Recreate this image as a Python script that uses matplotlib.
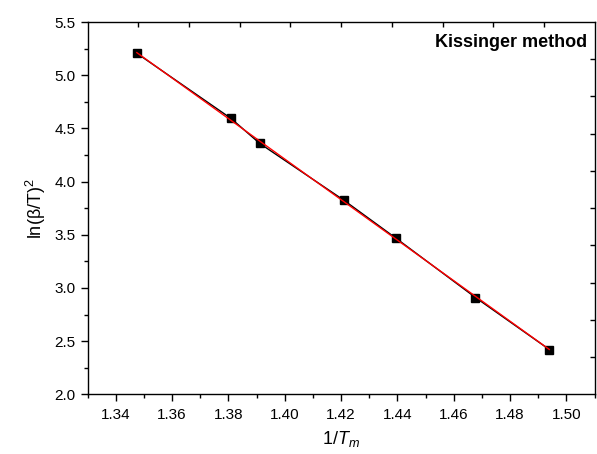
import numpy as np
import matplotlib.pyplot as plt
from matplotlib.ticker import MultipleLocator

plt.rcParams['font.family'] = ['Liberation Sans', 'DejaVu Sans']
plt.rcParams['mathtext.fontset'] = 'custom'
plt.rcParams['mathtext.rm'] = 'Liberation Sans'
plt.rcParams['mathtext.it'] = 'Liberation Sans:italic'

# 1/Tm (x1000) and ln(beta/T^2)
inv_tm = [1.3475, 1.3809, 1.3911, 1.4209, 1.4396, 1.4677, 1.4939]
ln_bt = [5.206, 4.594, 4.359, 3.826, 3.465, 2.910, 2.421]

x = np.array(inv_tm)
y = np.array(ln_bt)
k, b = np.polyfit(x, y, 1)
xf = np.array([x.min(), x.max()])

fig = plt.figure(figsize=(5.97, 4.54), dpi=100)
rect = [0.1466, 0.1315, 0.8495, 0.82]
ax = fig.add_axes(rect)

ax.plot(x, y, '-', color='black', lw=1.0, marker='s', ms=6, mfc='black', mec='black', zorder=2)
ax.plot(xf, k * xf + b, '-', color='red', lw=1.0, zorder=3)

ax.set_xlim(1.33, 1.51)
ax.set_ylim(2.0, 5.5)
ax.xaxis.set_major_locator(MultipleLocator(0.02))
ax.xaxis.set_minor_locator(MultipleLocator(0.01))
ax.yaxis.set_major_locator(MultipleLocator(0.5))
ax.yaxis.set_minor_locator(MultipleLocator(0.25))
ax.xaxis.set_major_formatter(plt.FormatStrFormatter('%.2f'))
ax.yaxis.set_major_formatter(plt.FormatStrFormatter('%.1f'))
ax.tick_params(which='major', direction='out', length=5, width=1.0, labelsize=11, colors='black')
ax.tick_params(which='minor', direction='out', length=3, width=1.0)
ax.tick_params(axis='x', which='major', pad=5)
for s in ax.spines.values():
    s.set_linewidth(1.0)

ax.set_xlabel(r'1/$\mathit{T}_{m}$', fontsize=13, labelpad=5)
ax.set_ylabel('ln(β/T)$^2$', fontsize=13, labelpad=5)
ax.text(0.985, 0.945, 'Kissinger method', transform=ax.transAxes, ha='right', va='center',
        fontsize=13, fontweight='bold')

# top and right axes with their own inward ticks
ax2 = fig.add_axes(rect, frameon=False)
ax2.set_xlim(0, 1)
ax2.set_ylim(0, 1)
ax2.set_xticks(np.arange(0.1, 1.0, 0.1))
ax2.set_yticks(np.arange(0.1, 1.0, 0.1))
ax2.tick_params(direction='in', length=3.5, width=1.0, top=True, right=True, bottom=False, left=False,
                labeltop=False, labelright=False, labelbottom=False, labelleft=False)
ax2.patch.set_visible(False)

fig.savefig('out.png', dpi=100)
